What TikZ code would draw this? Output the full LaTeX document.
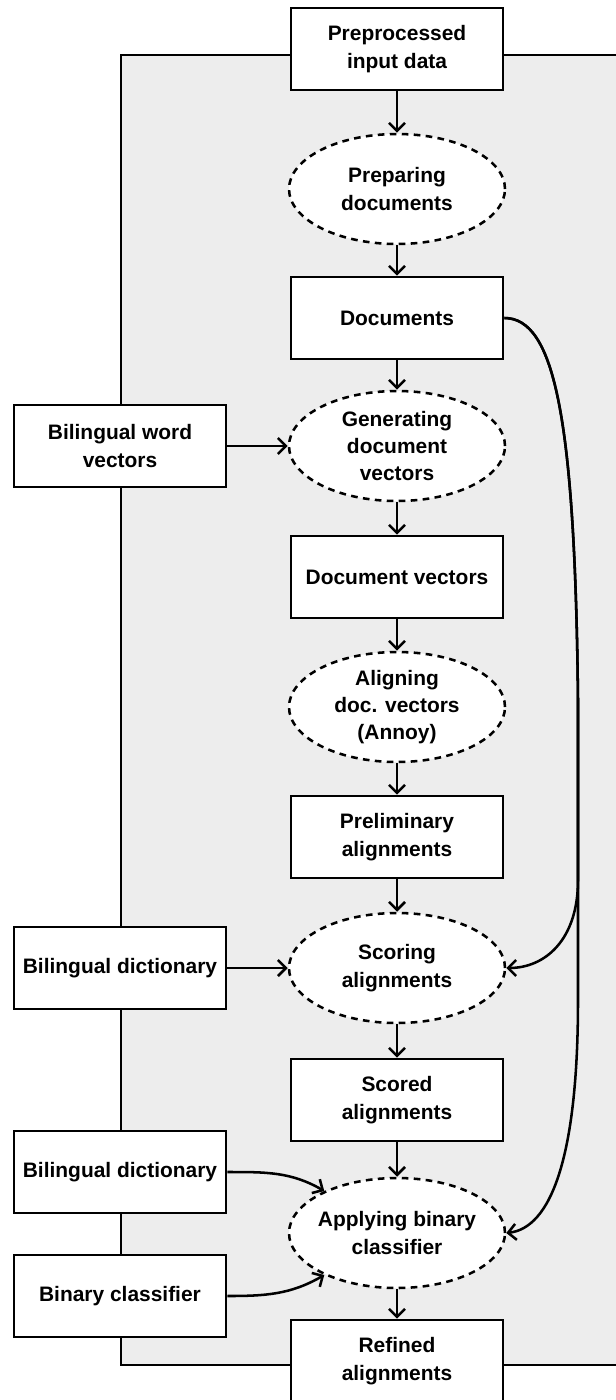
\documentclass[tikz,border=0pt]{standalone}
\usepackage{fontspec}
\setmainfont{Liberation Sans}
\usetikzlibrary{shapes.geometric,arrows.meta}
\definecolor{panel}{RGB}{237,237,237}
\begin{document}
\begin{tikzpicture}[x=0.75pt,y=-0.75pt,
  every node/.style={font=\fontsize{15.7}{20.5}\selectfont\bfseries, align=center},
  databox/.style={draw, line width=2pt, fill=white, minimum width=159pt, minimum height=61.5pt, inner sep=2pt},
  procell/.style={ellipse, draw, dash pattern=on 5pt off 4pt, line width=1.9pt, fill=white, minimum width=162pt, minimum height=82.5pt, inner sep=0pt},
  flow/.style={line width=1.9pt, -{Straight Barb[length=6pt,width=12pt]}}
]
\useasboundingbox (0,0) rectangle (616,1400);

% shaded panel behind the pipeline
\fill[panel] (121,55) rectangle (616,1365);
\draw[line width=2pt] (620,55) -- (121,55) -- (121,1365) -- (620,1365);

% main column
\node[databox] (input) at (397,49) {Preprocessed\\input data};
\node[procell] (prep) at (397,189) {Preparing\\documents};
\node[databox] (docs) at (397,318) {Documents};
\node[procell] (gen) at (397,446) {Generating\\document\\vectors};
\node[databox] (docvec) at (397,577) {Document vectors};
\node[procell] (align) at (397,707) {Aligning\\doc. vectors\\(Annoy)};
\node[databox] (prelim) at (397,837) {Preliminary\\alignments};
\node[procell] (score) at (397,968) {Scoring\\alignments};
\node[databox] (scored) at (397,1100) {Scored\\alignments};
\node[procell, inner xsep=-9pt] (apply) at (397,1233) {Applying binary\\classifier};
\node[databox] (refined) at (397,1361) {Refined\\alignments};

% external resources
\node[databox] (bwv) at (120,446) {Bilingual word\\vectors};
\node[databox] (dict1) at (120,968) {Bilingual dictionary};
\node[databox] (dict2) at (120,1172) {Bilingual dictionary};
\node[databox] (bincls) at (120,1296) {Binary classifier};

% main flow
\draw[flow] (input.south) -- (prep.north);
\draw[flow] (prep.south) -- (docs.north);
\draw[flow] (docs.south) -- (gen.north);
\draw[flow] (gen.south) -- (docvec.north);
\draw[flow] (docvec.south) -- (align.north);
\draw[flow] (align.south) -- (prelim.north);
\draw[flow] (prelim.south) -- (score.north);
\draw[flow] (score.south) -- (scored.north);
\draw[flow] (scored.south) -- (apply.north);
\draw[flow] (apply.south) -- (refined.north);

% resource inputs
\draw[flow] (bwv.east) -- (gen.west);
\draw[flow] (dict1.east) -- (score.west);
\draw[flow] (dict2.east) to[out=0,in=150] (apply.150);
\draw[flow] (bincls.east) to[out=0,in=210] (apply.210);

% documents reused further down
\draw[flow] (docs.east) .. controls (555,318) and (575,420) .. (578,700)
  -- (578,880) .. controls (578,940) and (545,968) .. (score.east);
\draw[flow] (docs.east) .. controls (555,318) and (575,420) .. (578,700)
  -- (578,1000) .. controls (578,1160) and (550,1228) .. (apply.east);
\end{tikzpicture}
\end{document}
